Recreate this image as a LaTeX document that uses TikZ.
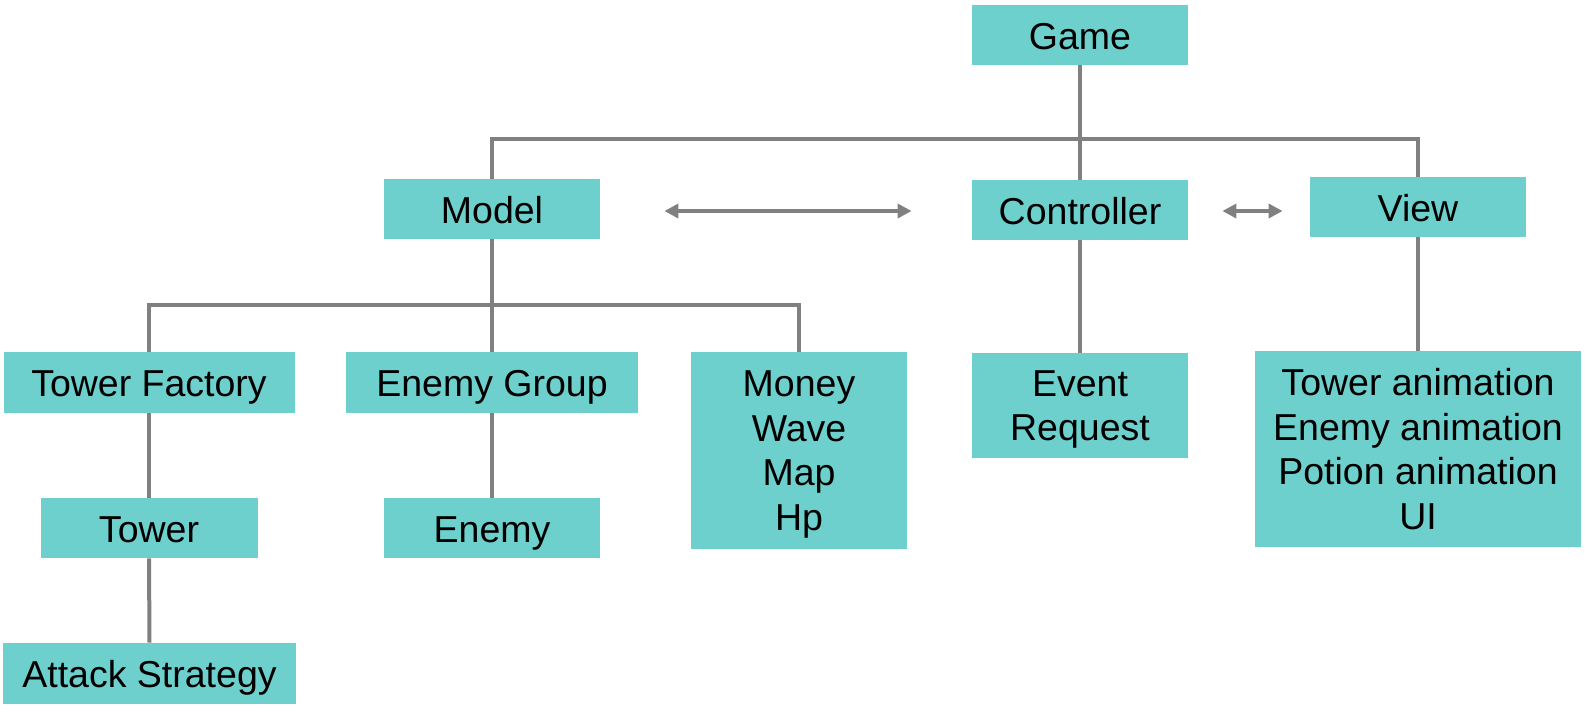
\documentclass[tikz,border=0pt]{standalone}
\usepackage{fontspec}
\setmainfont{Liberation Sans}
\usetikzlibrary{arrows.meta}
\definecolor{boxteal}{RGB}{109,208,205}
\definecolor{linegray}{RGB}{128,128,128}
\newcommand{\nodepth}[1]{\raisebox{0pt}[\height][0pt]{#1}}
\tikzset{
  box/.style={rectangle, fill=boxteal, draw=none, inner sep=0pt, align=center,
    font=\fontsize{18.75pt}{22.25pt}\selectfont, text=black},
  onebox/.style={box, text height=15pt, text depth=0.7pt},
  conn/.style={draw=linegray, line width=2pt},
  arr/.style={draw=linegray, line width=2pt, {Triangle[length=7pt,width=7pt]}-{Triangle[length=7pt,width=7pt]}}
}
\begin{document}
\begin{tikzpicture}[x=0.5pt,y=-0.5pt]
\useasboundingbox (0,0) rectangle (1586,720);
\node[onebox, minimum width=108pt, minimum height=30pt] (Game) at (1080,35) {Game};
\node[onebox, minimum width=108pt, minimum height=30pt] (Model) at (492,209) {Model};
\node[onebox, minimum width=108pt, minimum height=30pt] (Controller) at (1080,210) {Controller};
\node[onebox, minimum width=108pt, minimum height=30pt] (View) at (1418,207) {View};
\node[onebox, minimum width=145.5pt, minimum height=30.5pt] (TF) at (149,382.5) {Tower Factory};
\node[onebox, minimum width=146pt, minimum height=30.5pt] (EG) at (492,382.5) {Enemy Group};
\node[box, minimum width=108pt, minimum height=98.5pt] (Money) at (799,450.5) {Money\\Wave\\Map\\\nodepth{Hp}};
\node[box, minimum width=108pt, minimum height=52.5pt] (Event) at (1080,405.5) {Event\\\nodepth{Request}};
\node[box, minimum width=163pt, minimum height=98pt] (Anim) at (1418,449) {Tower animation\\Enemy animation\\Potion animation\\UI};
\node[onebox, minimum width=108.5pt, minimum height=30pt] (Tower) at (149,528) {Tower};
\node[onebox, minimum width=108pt, minimum height=30pt] (Enemy) at (492,528) {Enemy};
\node[onebox, minimum width=146.5pt, minimum height=30.5pt] (Attack) at (149.5,673.5) {Attack Strategy};
\coordinate (bar1) at (0,139);
\coordinate (bar2) at (0,305);
\draw[conn] (Game.south) -- (Controller.north);
\draw[conn] (Model.north) -- (Model.north |- bar1) -- (View.north |- bar1) -- (View.north);
\draw[conn] (Model.south) -- (EG.north);
\draw[conn] (TF.north) -- (TF.north |- bar2) -- (Money.north |- bar2) -- (Money.north);
\draw[conn] (TF.south) -- (Tower.north);
\draw[conn] (Tower.south) -- (Attack.north);
\draw[conn] (EG.south) -- (Enemy.north);
\draw[conn] (Controller.south) -- (Event.north);
\draw[conn] (View.south) -- (Anim.north);
\draw[arr, shorten <=32pt, shorten >=30pt] ([yshift=-1pt]Model.east) -- ([yshift=-0.5pt]Controller.west);
\draw[arr, shorten <=17pt, shorten >=13.5pt] ([yshift=-0.5pt]Controller.east) -- ([yshift=-2pt]View.west);
\end{tikzpicture}
\end{document}
